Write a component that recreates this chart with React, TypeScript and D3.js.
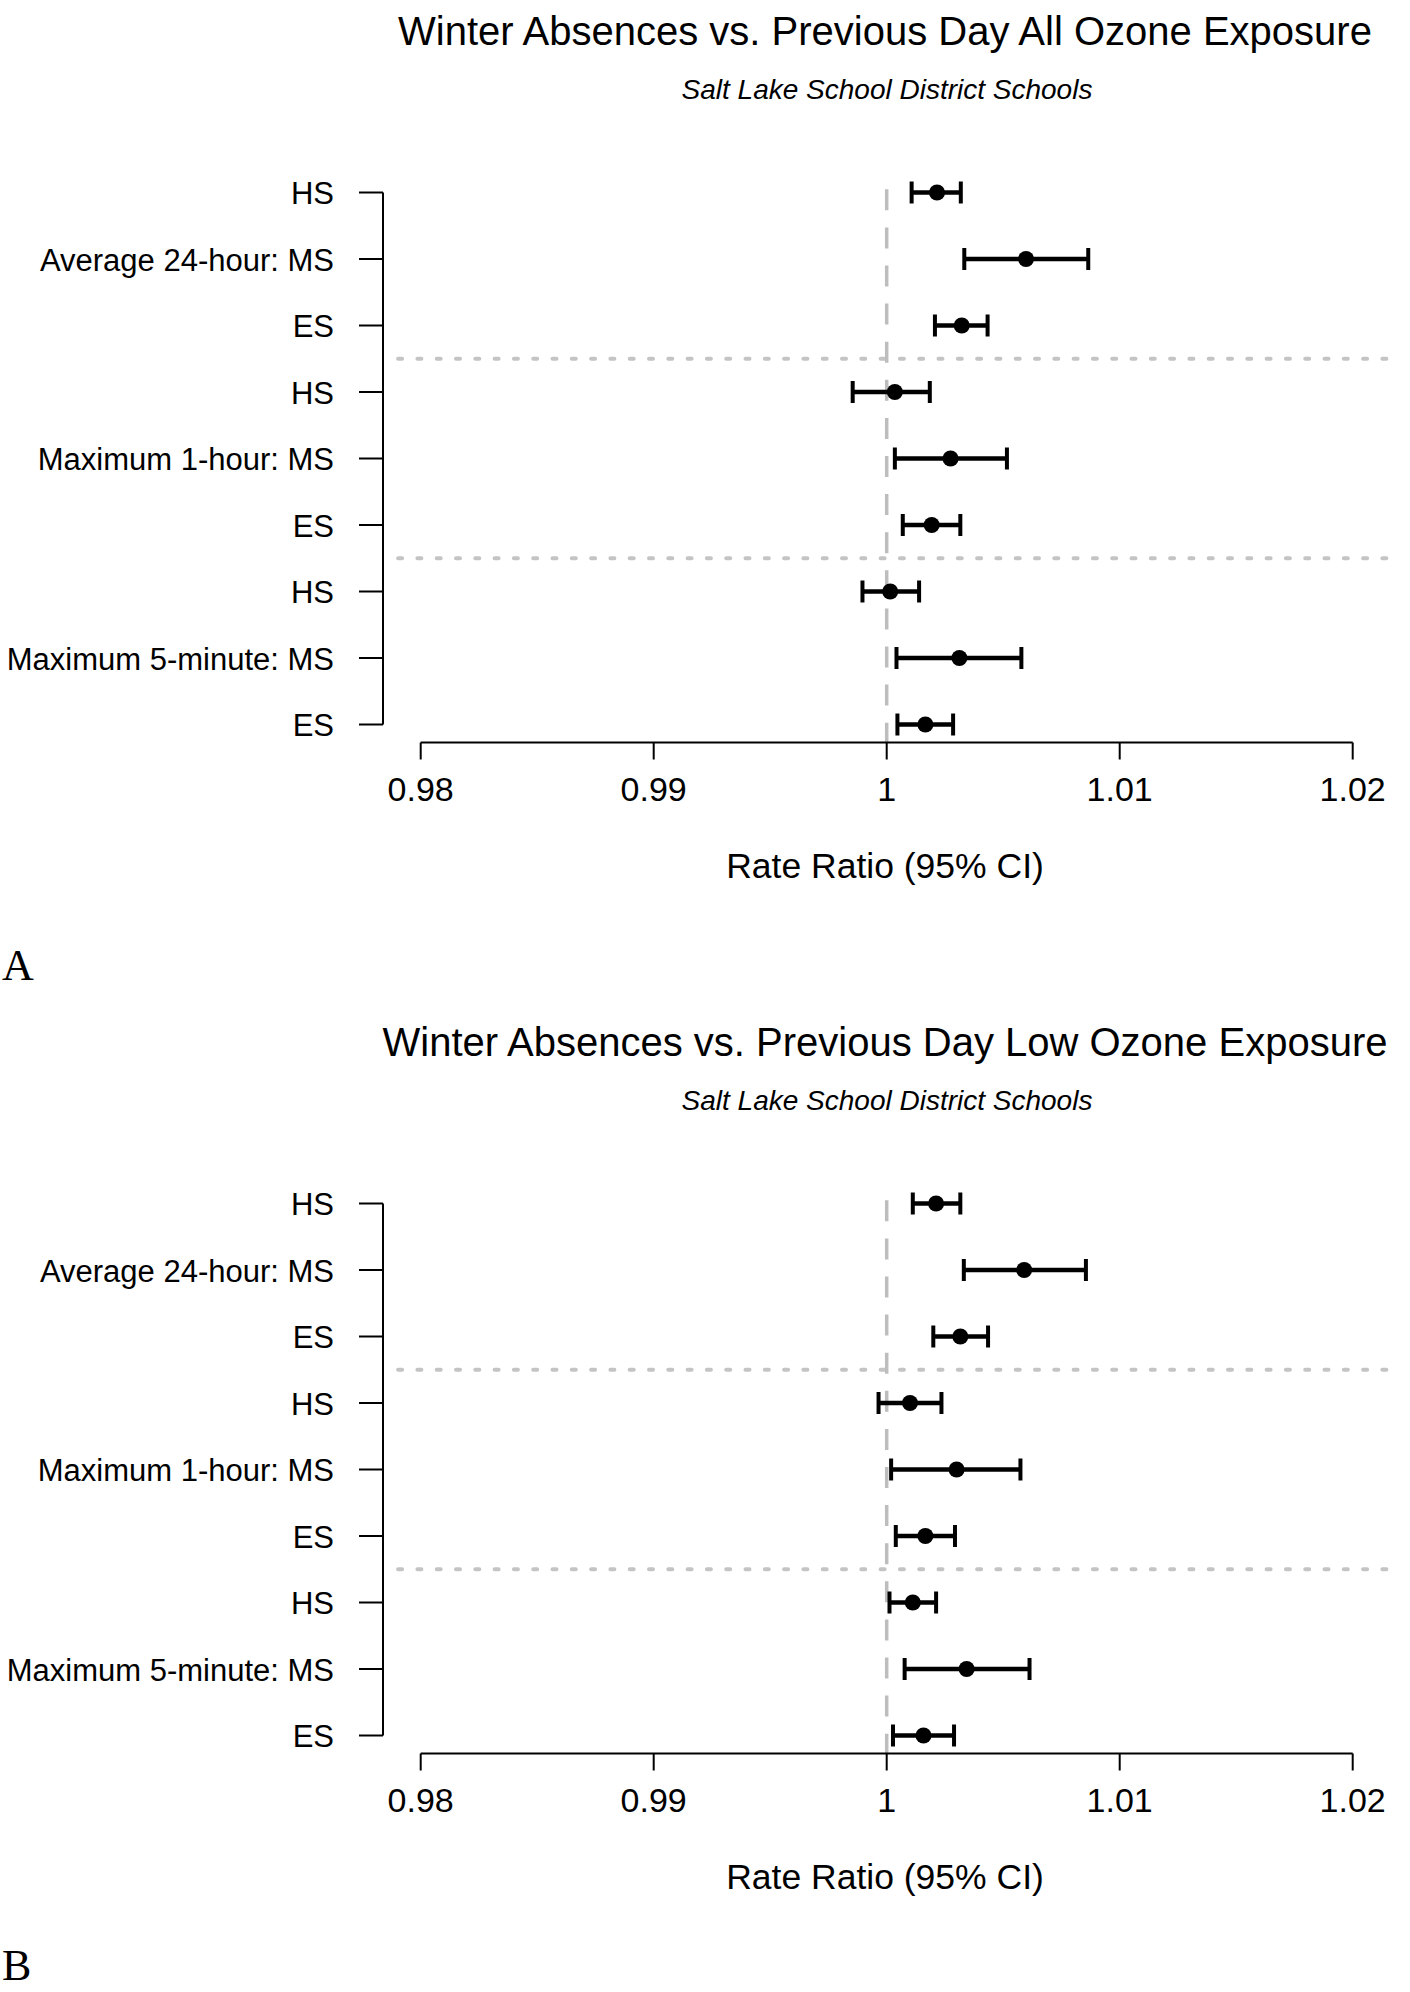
import React from "react";
import * as d3 from "d3";

// row labels, top to bottom
const rowLabels = [
  "HS",
  "Average 24-hour: MS",
  "ES",
  "HS",
  "Maximum 1-hour: MS",
  "ES",
  "HS",
  "Maximum 5-minute: MS",
  "ES",
];
const xTicks = [0.98, 0.99, 1, 1.01, 1.02];

// panel A: all ozone exposure
const allEst = [1.00216, 1.00598, 1.00322, 1.00035, 1.00274, 1.00193, 1.00015, 1.00312, 1.00166];
const allLo = [1.00107, 1.00333, 1.00207, 0.99854, 1.00035, 1.00069, 0.99896, 1.00042, 1.00046];
const allHi = [1.00318, 1.00865, 1.00433, 1.00185, 1.00516, 1.00316, 1.00139, 1.00578, 1.00285];

// panel B: low ozone exposure
const lowEst = [1.00212, 1.0059, 1.00316, 1.001, 1.003, 1.00166, 1.00112, 1.00343, 1.00158];
const lowLo = [1.00112, 1.00331, 1.002, 0.99965, 1.00019, 1.00039, 1.00012, 1.00077, 1.00027];
const lowHi = [1.00316, 1.00855, 1.00435, 1.00235, 1.00574, 1.00293, 1.00212, 1.00613, 1.00289];

// group separators sit between rows 2|3 and 5|6
const separators = [2.5, 5.5];

const sans = "'Liberation Sans', Arial, sans-serif";

const x = d3.scaleLinear().domain([0.98, 1.02]).range([420.7, 1352.7]);
const y = d3.scaleLinear().domain([0, 8]).range([192.5, 724.5]);
const axisY = 742.5;
const axisX = 383;

const Panel = ({ title, est, lo, hi, letter, letterY, dy }) => {
  return (
    <g transform={`translate(0,${dy})`}>
      <text x={885} y={45} textAnchor="middle" fontFamily={sans} fontSize={40}>
        {title}
      </text>
      <text x={887} y={99} textAnchor="middle" fontFamily={sans} fontSize={28} fontStyle="italic">
        Salt Lake School District Schools
      </text>

      {/* dotted separators between groups */}
      {separators.map((s, i) => (
        <line
          key={i}
          x1={axisX}
          x2={1392}
          y1={y(s)}
          y2={y(s)}
          stroke="#c4c4c4"
          strokeWidth={4}
          strokeLinecap="round"
          strokeDasharray="4 15.3"
          strokeDashoffset={4.2}
        />
      ))}

      {/* reference line at 1 */}
      <line
        x1={x(1)}
        x2={x(1)}
        y1={189.3}
        y2={axisY}
        stroke="#bdbdbd"
        strokeWidth={3.5}
        strokeDasharray="21 17.1"
      />

      {/* y axis */}
      <line x1={axisX} x2={axisX} y1={y(0)} y2={y(8)} stroke="#000" strokeWidth={2} />
      {rowLabels.map((lab, i) => (
        <g key={i}>
          <line x1={axisX - 24} x2={axisX} y1={y(i)} y2={y(i)} stroke="#000" strokeWidth={2} />
          <text x={334} y={y(i) + 11.5} textAnchor="end" fontFamily={sans} fontSize={31}>
            {lab}
          </text>
        </g>
      ))}

      {/* x axis */}
      <line x1={x(0.98)} x2={x(1.02)} y1={axisY} y2={axisY} stroke="#000" strokeWidth={2} />
      {xTicks.map(t => (
        <g key={t}>
          <line x1={x(t)} x2={x(t)} y1={axisY} y2={axisY + 17} stroke="#000" strokeWidth={2} />
          <text x={x(t)} y={801} textAnchor="middle" fontFamily={sans} fontSize={34}>
            {String(t)}
          </text>
        </g>
      ))}
      <text x={885} y={878} textAnchor="middle" fontFamily={sans} fontSize={35.5}>
        Rate Ratio (95% CI)
      </text>

      {/* estimates with confidence intervals */}
      {est.map((e, i) => (
        <g key={i}>
          <line x1={x(lo[i])} x2={x(hi[i])} y1={y(i)} y2={y(i)} stroke="#000" strokeWidth={4.5} />
          <line x1={x(lo[i])} x2={x(lo[i])} y1={y(i) - 11} y2={y(i) + 11} stroke="#000" strokeWidth={4} />
          <line x1={x(hi[i])} x2={x(hi[i])} y1={y(i) - 11} y2={y(i) + 11} stroke="#000" strokeWidth={4} />
          <circle cx={x(e)} cy={y(i)} r={8} fill="#000" />
        </g>
      ))}

      <text x={2} y={letterY} fontFamily="'Liberation Serif', 'Times New Roman', serif" fontSize={44}>
        {letter}
      </text>
    </g>
  );
};

export default function App() {
  return (
    <svg
      width={1410}
      height={1992}
      style={{ position: "absolute", left: 0, top: 0, background: "#fff" }}
    >
      <rect width={1410} height={1992} fill="#fff" />
      <Panel
        title="Winter Absences vs. Previous Day All Ozone Exposure"
        est={allEst}
        lo={allLo}
        hi={allHi}
        letter="A"
        letterY={980}
        dy={0}
      />
      <Panel
        title="Winter Absences vs. Previous Day Low Ozone Exposure"
        est={lowEst}
        lo={lowLo}
        hi={lowHi}
        letter="B"
        letterY={969}
        dy={1011}
      />
    </svg>
  );
}
